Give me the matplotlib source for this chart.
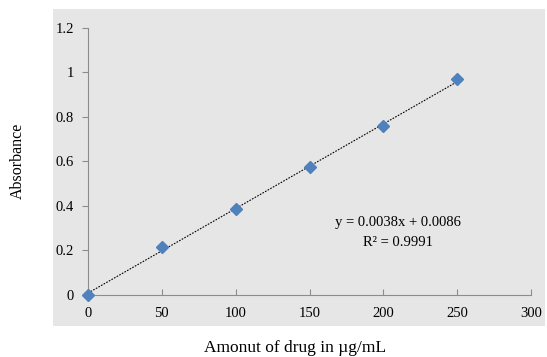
import matplotlib.pyplot as plt
import numpy as np
from matplotlib.patches import Rectangle

plt.rcParams['font.family'] = ['Liberation Serif', 'DejaVu Serif']

# calibration data
conc = [0, 50, 100, 150, 200, 250]
absorbance = [0.0, 0.215, 0.387, 0.577, 0.759, 0.970]
slope, intercept = 0.0038, 0.0086
r2 = 0.9991

fig = plt.figure(figsize=(5.47, 3.57), dpi=100)
fig.patch.set_facecolor('white')

# grey chart area behind the plot
fig.patches.append(Rectangle((0.097, 0.087), 0.899, 0.888, transform=fig.transFigure,
                             facecolor='#e6e6e6', edgecolor='none', zorder=-5))

ax = fig.add_axes([0.1609, 0.1737, 0.8099, 0.7479])
ax.patch.set_alpha(0)

xs = np.array([conc[0], conc[-1]])
ax.plot(xs, slope * xs + intercept, color='black', lw=0.8, ls=(0, (1.5, 1.2)), zorder=2)
ax.plot(conc, absorbance, ls='none', marker='D', ms=6.3, color='#4f81bd', zorder=3,
        clip_on=False)

ax.set_xlim(0, 300)
ax.set_ylim(0, 1.2)
ax.set_xticks(range(0, 301, 50))
ax.set_yticks([0, 0.2, 0.4, 0.6, 0.8, 1, 1.2])
ax.set_yticklabels(['0', '0.2', '0.4', '0.6', '0.8', '1', '1.2'])

for s in ['top', 'right']:
    ax.spines[s].set_visible(False)
for s in ['left', 'bottom']:
    ax.spines[s].set_color('#8c8c8c')
    ax.spines[s].set_linewidth(0.8)

ax.tick_params(axis='y', direction='out', length=4, color='#8c8c8c', labelsize=10.5, pad=6)
ax.tick_params(axis='x', direction='in', length=4, color='#8c8c8c', labelsize=10.5, pad=9)

ax.text(210, 0.328, f'y = {slope}x + {intercept}', ha='center', va='center', fontsize=10.5)
ax.text(210, 0.234, f'R² = {r2}', ha='center', va='center', fontsize=10.5)

fig.text(0.033, 0.55, 'Absorbance', rotation=90, ha='center', va='center', fontsize=11.5)
fig.text(0.54, 0.025, 'Amonut of drug in µg/mL', ha='center', va='center', fontsize=12.5)

fig.savefig('out.png', dpi=100)
